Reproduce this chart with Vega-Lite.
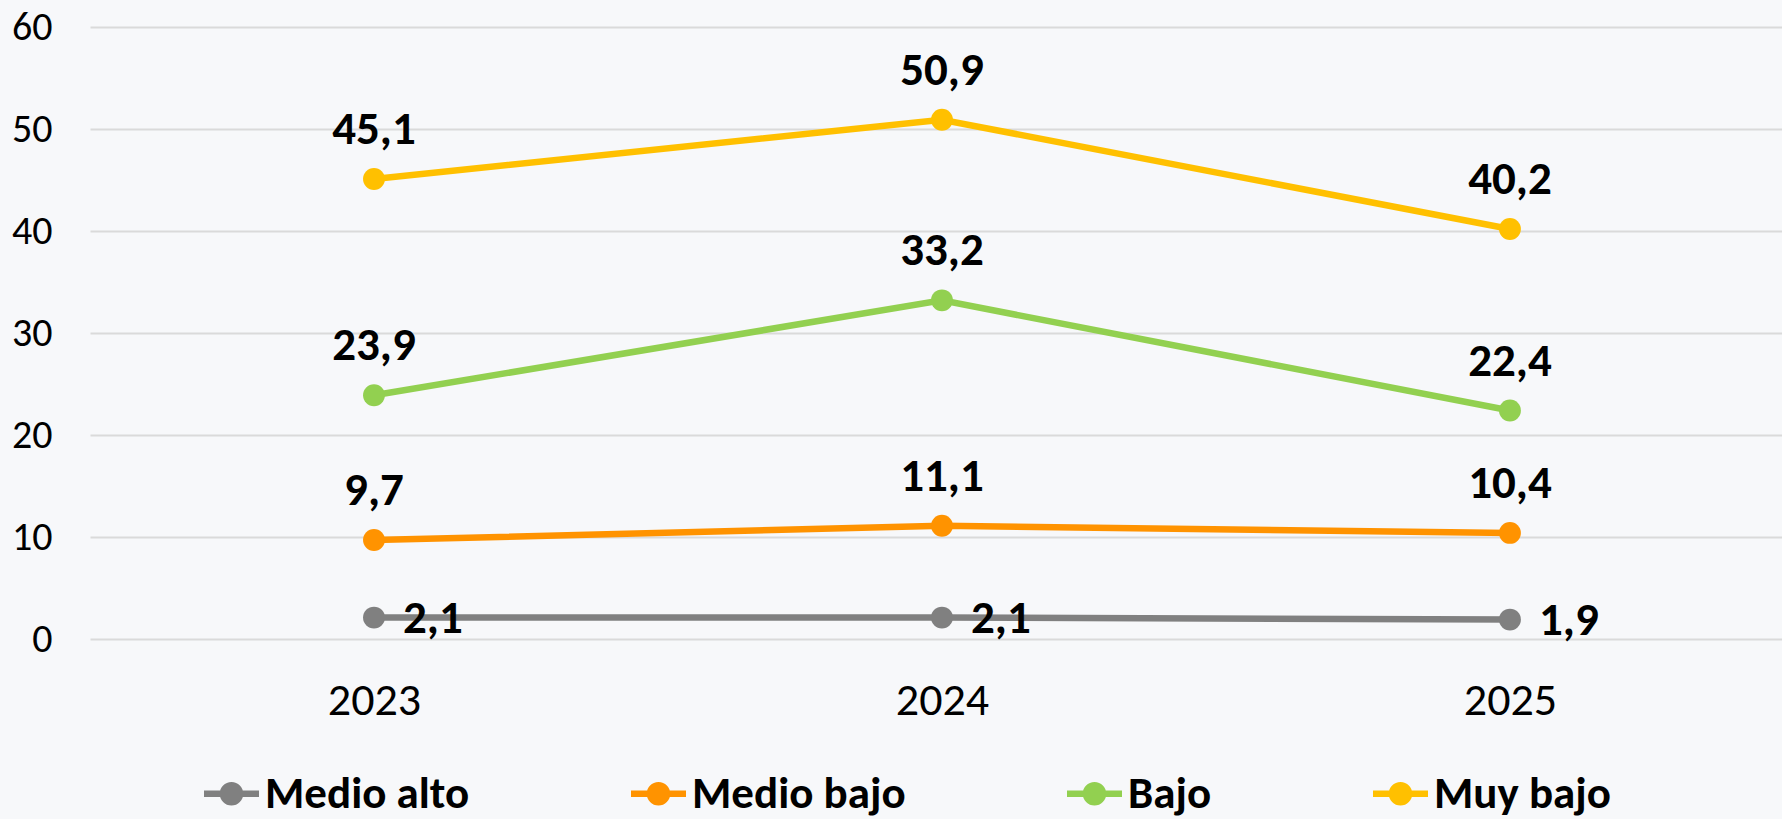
{
  "$schema": "https://vega.github.io/schema/vega-lite/v6.json",
  "width": 1692,
  "height": 612,
  "autosize": {"type": "none"},
  "padding": {"left": 90, "top": 27, "right": 0, "bottom": 180},
  "background": "#F7F8FA",
  "config": {
    "view": {"stroke": null},
    "font": "Carlito, Lato, sans-serif",
    "locale": {"number": {"decimal": ",", "thousands": ".", "grouping": [3], "currency": ["", " €"]}}
  },
  "data": {
    "values": [
      {"serie": "Medio alto", "year": 2023, "value": 2.1},
      {"serie": "Medio alto", "year": 2024, "value": 2.1},
      {"serie": "Medio alto", "year": 2025, "value": 1.9},
      {"serie": "Medio bajo", "year": 2023, "value": 9.7},
      {"serie": "Medio bajo", "year": 2024, "value": 11.1},
      {"serie": "Medio bajo", "year": 2025, "value": 10.4},
      {"serie": "Bajo", "year": 2023, "value": 23.9},
      {"serie": "Bajo", "year": 2024, "value": 33.2},
      {"serie": "Bajo", "year": 2025, "value": 22.4},
      {"serie": "Muy bajo", "year": 2023, "value": 45.1},
      {"serie": "Muy bajo", "year": 2024, "value": 50.9},
      {"serie": "Muy bajo", "year": 2025, "value": 40.2}
    ]
  },
  "encoding": {
    "x": {
      "field": "year",
      "type": "quantitative",
      "scale": {"domain": [2022.5, 2025.479], "nice": false, "zero": false},
      "axis": {
        "values": [2023, 2024, 2025],
        "format": "d",
        "title": null,
        "grid": false,
        "domain": false,
        "ticks": false,
        "tickSize": 0,
        "labelFontSize": 46,
        "labelPadding": 39,
        "labelColor": "#000000",
        "labelFontWeight": "normal"
      }
    },
    "y": {
      "field": "value",
      "type": "quantitative",
      "scale": {"domain": [0, 60], "nice": false},
      "axis": {
        "values": [0, 10, 20, 30, 40, 50, 60],
        "title": null,
        "domain": false,
        "ticks": false,
        "tickSize": 0,
        "labelPadding": 38,
        "labelFontSize": 40,
        "labelColor": "#000000",
        "gridColor": "#DADADA",
        "gridWidth": 2
      }
    }
  },
  "layer": [
    {
      "mark": {"type": "line", "strokeWidth": 6.5},
      "encoding": {
        "color": {
          "field": "serie",
          "type": "nominal",
          "sort": ["Medio alto", "Medio bajo", "Bajo", "Muy bajo"],
          "scale": {"domain": ["Medio alto", "Medio bajo", "Bajo", "Muy bajo"], "range": ["#808080", "#FF9300", "#92D050", "#FFC000"]},
          "legend": {
            "orient": "none",
            "legendX": 114,
            "legendY": 739,
            "direction": "horizontal",
            "columns": 4,
            "title": null,
            "padding": 0,
            "symbolType": "M-1,-0.12H1V0.12H-1Z M-0.43,0A0.43,0.43 0 1,1 0.43,0A0.43,0.43 0 1,1 -0.43,0Z",
            "symbolSize": 3025,
            "symbolStrokeWidth": 0,
            "labelFontSize": 45,
            "labelFontWeight": "bold",
            "labelColor": "#000000",
            "labelOffset": 6,
            "labelLimit": 400,
            "columnPadding": 161,
            "encode": {
              "symbols": {
                "update": {
                  "fill": {"scale": "color", "field": "value"},
                  "fillOpacity": {"value": 1},
                  "strokeWidth": {"value": 0}
                }
              }
            }
          }
        }
      }
    },
    {
      "mark": {"type": "point", "filled": true, "size": 480, "opacity": 1},
      "encoding": {
        "color": {"field": "serie", "type": "nominal", "legend": null}
      }
    },
    {
      "transform": [{"filter": "datum.serie !== 'Medio alto'"}],
      "mark": {"type": "text", "fontSize": 47, "fontWeight": "bold", "dy": -35, "baseline": "alphabetic", "align": "center", "color": "#000000"},
      "encoding": {
        "text": {"field": "value", "type": "quantitative", "format": ".1f"}
      }
    },
    {
      "transform": [{"filter": "datum.serie === 'Medio alto'"}],
      "mark": {"type": "text", "fontSize": 47, "fontWeight": "bold", "dx": 29, "dy": 15, "baseline": "alphabetic", "align": "left", "color": "#000000"},
      "encoding": {
        "text": {"field": "value", "type": "quantitative", "format": ".1f"}
      }
    }
  ]
}
